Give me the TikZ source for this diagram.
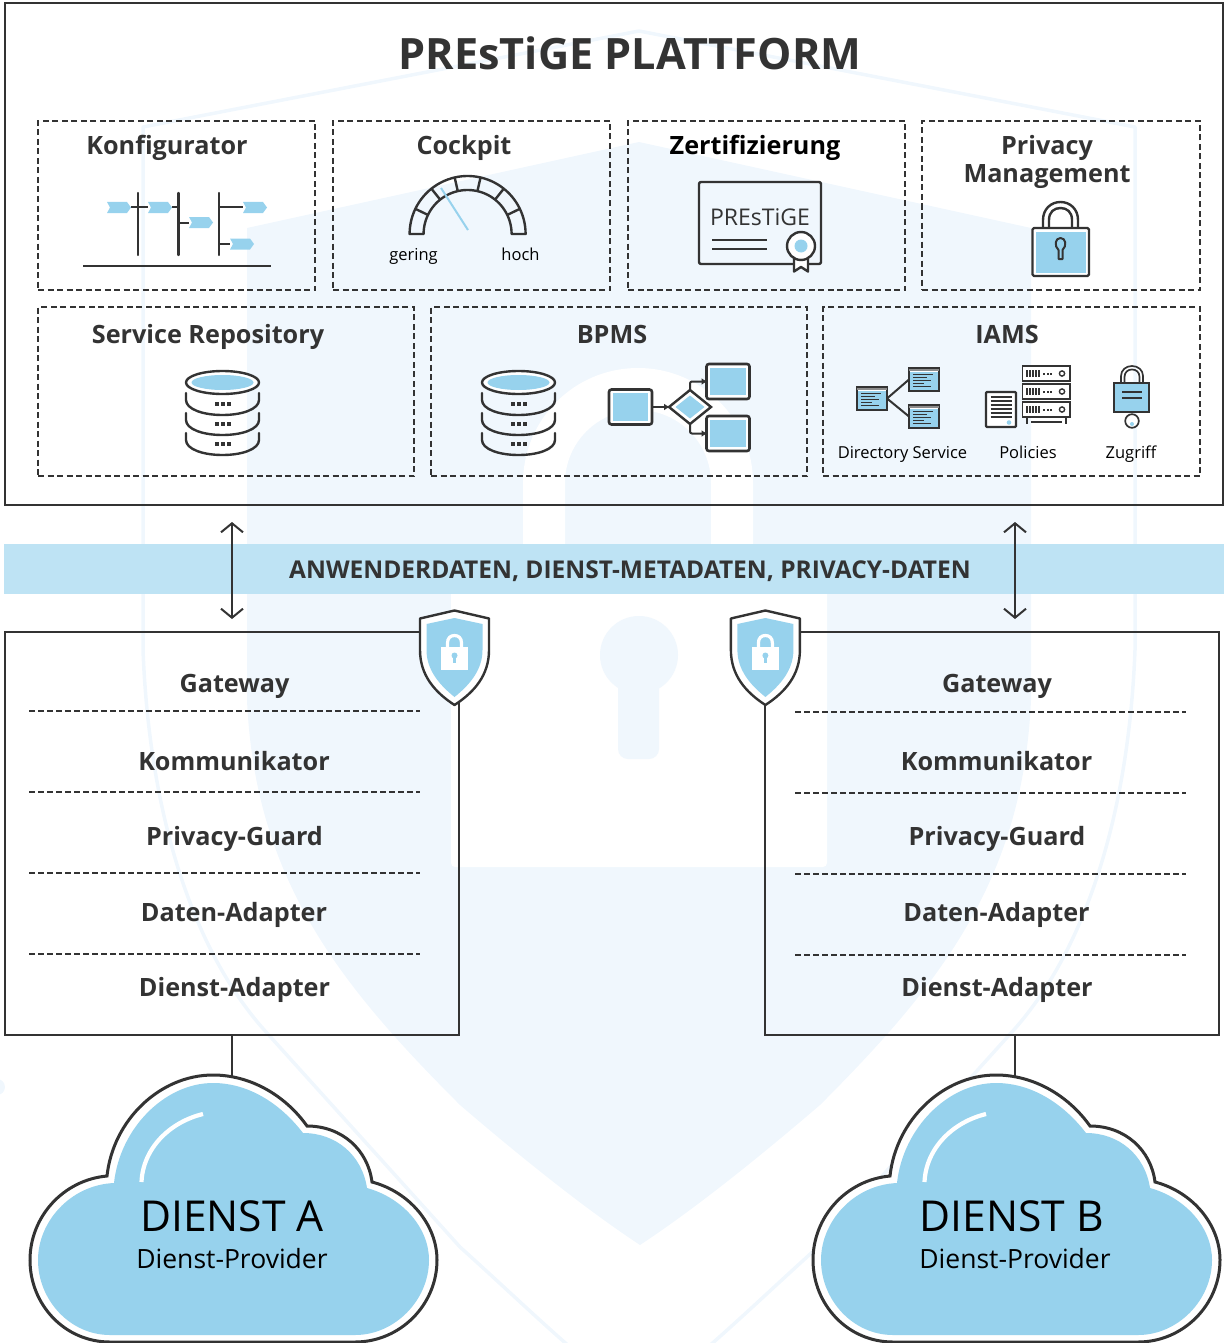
\documentclass[tikz,border=0pt]{standalone}
\usepackage{fontspec}
\setmainfont{Open Sans}
\usetikzlibrary{arrows.meta}
\definecolor{ink}{HTML}{333333}
\definecolor{sky}{HTML}{97D2ED}
\definecolor{pale}{HTML}{F0F7FD}
\definecolor{bandc}{HTML}{BEE3F4}
\newcommand\fs[1]{\fontsize{#1}{#1}\selectfont}
\tikzset{
  frame/.style={draw=ink,line width=2.2pt,inner sep=0,outer sep=0,minimum width=#1},
  dbox/.style={draw=ink,line width=1.8pt,dash pattern=on 6pt off 3.5pt,inner sep=0,outer sep=0},
  head/.style={font=\bfseries\fs{25.2},text=ink,inner sep=0,anchor=base,yshift=-9pt},
  headtwo/.style={font=\bfseries\fs{25.2},text=ink,inner sep=0,align=center},
  small/.style={font=\fs{16.5},text=black,inner sep=0,anchor=base},
  rowtext/.style={font=\bfseries\fs{25.2},text=ink,inner sep=0,anchor=base,yshift=-9pt},
  divider/.style={draw=ink,line width=1.8pt,dash pattern=on 6pt off 3pt},
  icon/.style={draw=ink,line width=2.4pt,line join=round},
  thin/.style={draw=ink,line width=1.7pt},
  bluebox/.style={draw=ink,line width=2.6pt,rounded corners=2.5pt,fill=white,inner sep=0,outer sep=0,minimum width=43pt,minimum height=35pt},
  winbox/.style={draw=ink,line width=2pt,fill=sky,inner sep=0,outer sep=0,minimum width=30pt,minimum height=23pt},
  updown/.style={draw=ink,line width=2pt,{Straight Barb[length=9pt,width=22pt]}-{Straight Barb[length=9pt,width=22pt]}},
  link/.style={draw=ink,line width=2pt},
}
\newcommand\flagicon[2]{\fill[sky] (#1,#2) -- ++(20,0) -- ++(4,5.5) -- ++(-4,5.5) -- ++(-20,0) -- ++(3,-5.5) -- cycle;}
\newcommand\skyinset[1]{\fill[sky] ([shift={(3.8pt,3.8pt)}]#1.south west) rectangle ([shift={(-3.8pt,-3.8pt)}]#1.north east);}
\newcommand\dbicon[1]{\begin{scope}[shift={(#1,0)}]
  \draw[icon,fill=white] (0,382.5) ellipse[x radius=36.5pt,y radius=11.5pt];
  \fill[sky] (0,382.5) ellipse[x radius=31pt,y radius=7.5pt];
  \foreach \y in {393,413,433}{
    \draw[icon,line cap=round] (-36.5,\y) -- (-36.5,\y+7) .. controls (-36.5,\y+16) and (-20,\y+22) .. (0,\y+22) .. controls (20,\y+22) and (36.5,\y+16) .. (36.5,\y+7) -- (36.5,\y);
    \foreach \d in {-6,0,6}{\fill[ink] (\d-2,\y+9) rectangle (\d+2,\y+13);}
  }
\end{scope}}
\newcommand\winlines[1]{
  \fill[white] ([xshift=-14pt,yshift=7.2pt]#1.center) rectangle ([xshift=14pt,yshift=9pt]#1.center);
  \fill[black!45] ([xshift=-15pt,yshift=9pt]#1.center) rectangle ([xshift=15pt,yshift=11pt]#1.center);
  \foreach \d/\w in {5/20,2/14,-1/18,-4/11,-7/18}{\draw[ink,line width=1.2pt] ([xshift=-11pt,yshift=\d pt]#1.center) -- ++(\w,0);}
}
\newcommand\serverrow[1]{
  \draw[thin,fill=white] (1022.5,#1) rectangle (1070,#1+15);
  \foreach \x in {1027,1030,1033,1036,1039}{\draw[ink,line width=1.6pt] (\x,#1+4) -- (\x,#1+11);}
  \foreach \x in {1044,1047.5,1051}{\fill[ink] (\x-1,#1+6.5) rectangle (\x+1,#1+8.5);}
  \draw[ink,line width=1.4pt] (1062,#1+7.5) circle[radius=2.6pt];
}
\newcommand\shieldicon[1]{\begin{scope}[shift={(#1,0)}]
  \draw[draw=ink,line width=2.4pt,fill=white,line join=round] (0,610.5) -- (34.5,618.5) -- (34.5,650) .. controls (34.5,675) and (20,692) .. (0,705) .. controls (-20,692) and (-34.5,675) .. (-34.5,650) -- (-34.5,618.5) -- cycle;
  \fill[sky] (0,618) -- (28,624) -- (28,650) .. controls (28,670) and (15,685) .. (0,697) .. controls (-15,685) and (-28,670) .. (-28,650) -- (-28,624) -- cycle;
  \draw[white,line width=3.2pt] (-7,650) -- (-7,643) .. controls (-7,638) and (-4,635.5) .. (0,635.5) .. controls (4,635.5) and (7,638) .. (7,643) -- (7,650);
  \fill[white] (-13.5,647) rectangle (13.5,670);
  \fill[sky] (0,655.5) circle[radius=3pt];
  \fill[sky] (-1.5,656) rectangle (1.5,662.5);
\end{scope}}
\newcommand\cloudicon[1]{\begin{scope}[shift={(#1,0)}]
  \draw[draw=ink,line width=3pt,fill=white] (107,1176) .. controls (113,1120) and (160,1075) .. (213,1075) .. controls (250,1075) and (285,1095) .. (307,1126) .. controls (342,1126) and (368,1150) .. (372,1182) .. controls (410,1192) and (437,1225) .. (437,1260) .. controls (437,1305) and (400,1342) .. (355,1342) -- (110,1342) .. controls (65,1342) and (30,1305) .. (30,1260) .. controls (30,1217) and (63,1180) .. (107,1176) -- cycle;
  \fill[sky] (114,1183) .. controls (120,1128) and (165,1083) .. (213,1083) .. controls (248,1083) and (280,1103) .. (303,1133) .. controls (336,1133) and (362,1155) .. (367,1188) .. controls (403,1198) and (429,1228) .. (429,1260) .. controls (429,1300) and (395,1335) .. (355,1335) -- (110,1335) .. controls (70,1335) and (38,1300) .. (38,1260) .. controls (38,1222) and (70,1185) .. (114,1183) -- cycle;
  \draw[white,line width=4.2pt] (141.5,1182) .. controls (143,1148) and (170,1122) .. (203,1114);
\end{scope}}
\begin{document}
\begin{tikzpicture}[x=1pt,y=-1pt]
\useasboundingbox (0,0) rectangle (1224,1343);
% watermark
\begin{scope}
\clip (0,0) rectangle (1224,1343);
\draw[pale,line width=3.5pt,line join=round] (639,31) -- (143,127) -- (143,650) .. controls (150,830) and (200,960) .. (267,1033) -- (460,1247) .. controls (530,1310) and (590,1370) .. (639,1400) .. controls (688,1370) and (748,1310) .. (818,1247) -- (1011,1033) .. controls (1078,960) and (1128,830) .. (1135,650) -- (1135,127) -- cycle;
\fill[pale] (639,142) -- (247,228) -- (247,700) .. controls (255,880) and (340,985) .. (460,1105) .. controls (530,1165) and (590,1212) .. (640,1245) .. controls (690,1212) and (750,1165) .. (820,1105) .. controls (940,985) and (1023,880) .. (1031,700) -- (1031,228) -- cycle;
\fill[white,rounded corners=4pt] (451,560) rectangle (827,867);
\draw[white,line width=42pt] (544,570) -- (544,483) .. controls (544,431) and (586,389) .. (638,389) .. controls (690,389) and (732,431) .. (732,483) -- (732,570);
\fill[pale] (639,655) circle[radius=39pt];
\fill[pale,rounded corners=10pt] (618,670) rectangle (659,759);
\fill[pale] (-3,1087) circle[radius=8pt];
\end{scope}
% platform
\node[frame=1218pt,minimum height=502pt] (platform) at (614,254) {};
\node[font=\bfseries\fs{43.2},text=ink,inner sep=0,anchor=base,yshift=-15.4pt] (title) at (630,54.5) {PREsTiGE PLATTFORM};
\node[dbox,minimum width=277pt,minimum height=169pt] (konf) at (176.5,205.5) {};
\node[dbox,minimum width=277pt,minimum height=169pt] (cock) at (471.5,205.5) {};
\node[dbox,minimum width=277pt,minimum height=169pt] (zert) at (766.5,205.5) {};
\node[dbox,minimum width=278pt,minimum height=169pt] (priv) at (1061,205.5) {};
\node[dbox,minimum width=376pt,minimum height=169pt] (repo) at (226,391.5) {};
\node[dbox,minimum width=376pt,minimum height=169pt] (bpms) at (619,391.5) {};
\node[dbox,minimum width=377pt,minimum height=169pt] (iams) at (1011.5,391.5) {};
\node[head] (konft) at (167,146) {Konfigurator};
\node[head] (cockt) at (464,146) {Cockpit};
\node[head,text=black] (zertt) at (755,146) {Zertifizierung};
\node[headtwo] (privt) at (1047,162) {Privacy\\[3pt]Management};
\node[head] (repot) at (208,334) {Service Repository};
\node[head] (bpmst) at (612,334) {BPMS};
\node[head] (iamst) at (1007,334) {IAMS};
% Konfigurator icon
\draw[icon] (83,266) -- (271,266);
\foreach \x in {138,178.5,219}{\draw[icon,line cap=round] (\x,193) -- (\x,255);}
\draw[icon] (131,207) -- (148,207) (172,207) -- (178.5,207) (178.5,223) -- (189,223) (219,207) -- (243,207) (219,244) -- (230,244);
\flagicon{107}{202}\flagicon{148}{202}\flagicon{189}{217}\flagicon{243}{202}\flagicon{230}{238.5}
% Cockpit icon
\draw[icon] plot[domain=0:180,samples=50] ({467.6+58*cos(\x)},{234-58*sin(\x)}) -- (423.6,234) -- plot[domain=180:0,samples=50] ({467.6+44*cos(\x)},{234-44*sin(\x)}) -- cycle;
\foreach \a in {25.7,51.4,77.1,102.9,128.6,154.3}{\draw[icon] ({467.6+44*cos(\a)},{234-44*sin(\a)}) -- ({467.6+58*cos(\a)},{234-58*sin(\a)});}
\draw[sky,line width=2pt] (441,188) -- (468,230);
\node[small] (gering) at (413.5,260) {gering};
\node[small] (hoch) at (520.5,260) {hoch};
% Certificate
\draw[icon,rounded corners=2pt] (699,182) rectangle (821,264);
\node[font=\fs{23},text=ink,inner sep=0] (certt) at (760,217) {PREsTiGE};
\draw[icon] (712,240) -- (767,240) (712,249) -- (767,249);
\draw[icon,fill=white] (794,257) -- (794,271.5) -- (801,267) -- (808,271.5) -- (808,257) -- cycle;
\draw[icon,fill=white] (801,246) circle[radius=14pt];
\fill[sky] (801,246) circle[radius=6.5pt];
% Privacy lock
\draw[icon] (1043,230) -- (1043,220) .. controls (1043,209) and (1051,202) .. (1060.5,202) .. controls (1070,202) and (1078,209) .. (1078,220) -- (1078,230);
\draw[icon] (1049,230) -- (1049,220) .. controls (1049,212) and (1054,208) .. (1060.5,208) .. controls (1067,208) and (1072,212) .. (1072,220) -- (1072,230);
\draw[icon,fill=white,rounded corners=1.5pt] (1032.5,228) rectangle (1089,276);
\fill[sky] (1036,232) rectangle (1085.5,272.5);
\draw[icon,line width=2pt] (1058.5,250) -- (1058.5,259) -- (1062.5,259) -- (1062.5,250) .. controls (1067,246) and (1066,238) .. (1060.5,238) .. controls (1055,238) and (1054,246) .. (1058.5,250) -- cycle;
% Databases
\dbicon{222.5}
\dbicon{518.5}
% Flow
\node[bluebox,minimum width=43pt] (start) at (630.5,407) {};
\node[bluebox] (taska) at (728,381.5) {};
\node[bluebox] (taskb) at (728,433.5) {};
\skyinset{start}\skyinset{taska}\skyinset{taskb}
\draw[draw=ink,line width=2.4pt,fill=white,line join=miter] (690,390) -- (711,407) -- (690,424) -- (669,407) -- cycle;
\fill[sky] (690,395.5) -- (704.5,407) -- (690,418.5) -- (675.5,407) -- cycle;
\coordinate (dleft) at (669,407);
\coordinate (dtop) at (690,390);
\coordinate (dbot) at (690,424);
\draw[link,-{Triangle[length=5pt,width=6pt]}] (start) -- (dleft);
\draw[link,-{Triangle[length=5pt,width=6pt]},rounded corners=2pt] (dtop) |- (taska);
\draw[link,-{Triangle[length=5pt,width=6pt]},rounded corners=2pt] (dbot) |- (taskb);
% Directory
\node[winbox] (dira) at (872,398.5) {};
\node[winbox] (dirb) at (924,379.5) {};
\node[winbox] (dirc) at (924,416.5) {};
\draw[link] (dira.east) -- (dirb.west);
\draw[link] (dira.east) -- (dirc.west);
\winlines{dira}\winlines{dirb}\winlines{dirc}
% Policies
\draw[icon,fill=white,rounded corners=1pt] (986,392) rectangle (1016,427);
\foreach \y in {397,401,405,409,413,417}{\draw[ink,line width=1.3pt] (990.5,\y) -- (1011.5,\y);}
\fill[sky] (1009,422.5) circle[radius=2.3pt];
\serverrow{366}\serverrow{384}\serverrow{402}
\draw[thin] (1027,418) -- (1027,424) (1066,418) -- (1066,424);
\draw[thin] (1031,422) -- (1062,422);
% Zugriff
\draw[thin] (1121,384) -- (1121,376) .. controls (1121,370) and (1126,366) .. (1132,366) .. controls (1138,366) and (1143,370) .. (1143,376) -- (1143,384);
\draw[thin] (1124.5,384) -- (1124.5,377) .. controls (1124.5,372) and (1128,369.5) .. (1132,369.5) .. controls (1136,369.5) and (1139.5,372) .. (1139.5,377) -- (1139.5,384);
\draw[thin,fill=white] (1132,421) circle[radius=6.8pt];
\fill[sky] (1132,424) circle[radius=2pt];
\draw[thin,fill=sky] (1114,383) rectangle (1149,412);
\draw[ink,line width=1.5pt] (1122,392) -- (1142,392) (1122,398) -- (1142,398);
\node[small] (dirt) at (902.5,458) {Directory Service};
\node[small] (polt) at (1028,458) {Policies};
\node[small] (zugt) at (1131,458) {Zugriff};
% Data band
\fill[bandc] (4,544) rectangle (1224,594);
\node[font=\bfseries\fs{24.5},text=ink,inner sep=0,anchor=base,yshift=-8.8pt] (bandt) at (630,570) {ANWENDERDATEN, DIENST-METADATEN, PRIVACY-DATEN};
\coordinate (aup) at (232,522);
\coordinate (adown) at (232,619);
\coordinate (bup) at (1015,522);
\coordinate (bdown) at (1015,619);
\draw[updown] (aup) -- (adown);
\draw[updown] (bup) -- (bdown);
% Gateways
\node[frame=454pt,minimum height=403pt] (gwa) at (232,833.5) {};
\node[frame=454pt,minimum height=403pt] (gwb) at (992,833.5) {};
\shieldicon{454.5}
\shieldicon{765.4}
\foreach \y in {711,792,873,954}{\draw[divider] (29,\y) -- (420,\y);}
\foreach \y in {712,793,874,955}{\draw[divider] (795,\y) -- (1186,\y);}
\node[rowtext] (a1) at (234.5,683) {Gateway};
\node[rowtext] (a2) at (234,761) {Kommunikator};
\node[rowtext] (a3) at (234.5,836) {Privacy-Guard};
\node[rowtext] (a4) at (234,912) {Daten-Adapter};
\node[rowtext] (a5) at (234.5,987) {Dienst-Adapter};
\node[rowtext] (b1) at (997,683) {Gateway};
\node[rowtext] (b2) at (996.5,761) {Kommunikator};
\node[rowtext] (b3) at (997,836) {Privacy-Guard};
\node[rowtext] (b4) at (996.5,912) {Daten-Adapter};
\node[rowtext] (b5) at (997,987) {Dienst-Adapter};
% Clouds
\coordinate (ctopa) at (232,1078);
\coordinate (ctopb) at (1015,1078);
\coordinate (gwbfoot) at (1015,1035);
\draw[link] (gwa.south) -- (ctopa);
\draw[link] (gwbfoot) -- (ctopb);
\cloudicon{0}
\cloudicon{783}
\node[font=\fs{42.6},text=black,inner sep=0] (da) at (232,1216) {DIENST A};
\node[font=\fs{26.5},text=black,inner sep=0] (pa) at (232,1259) {Dienst-Provider};
\node[font=\fs{42.6},text=black,inner sep=0] (db) at (1012,1216) {DIENST B};
\node[font=\fs{26.5},text=black,inner sep=0] (pb) at (1015,1259) {Dienst-Provider};
\end{tikzpicture}
\end{document}
